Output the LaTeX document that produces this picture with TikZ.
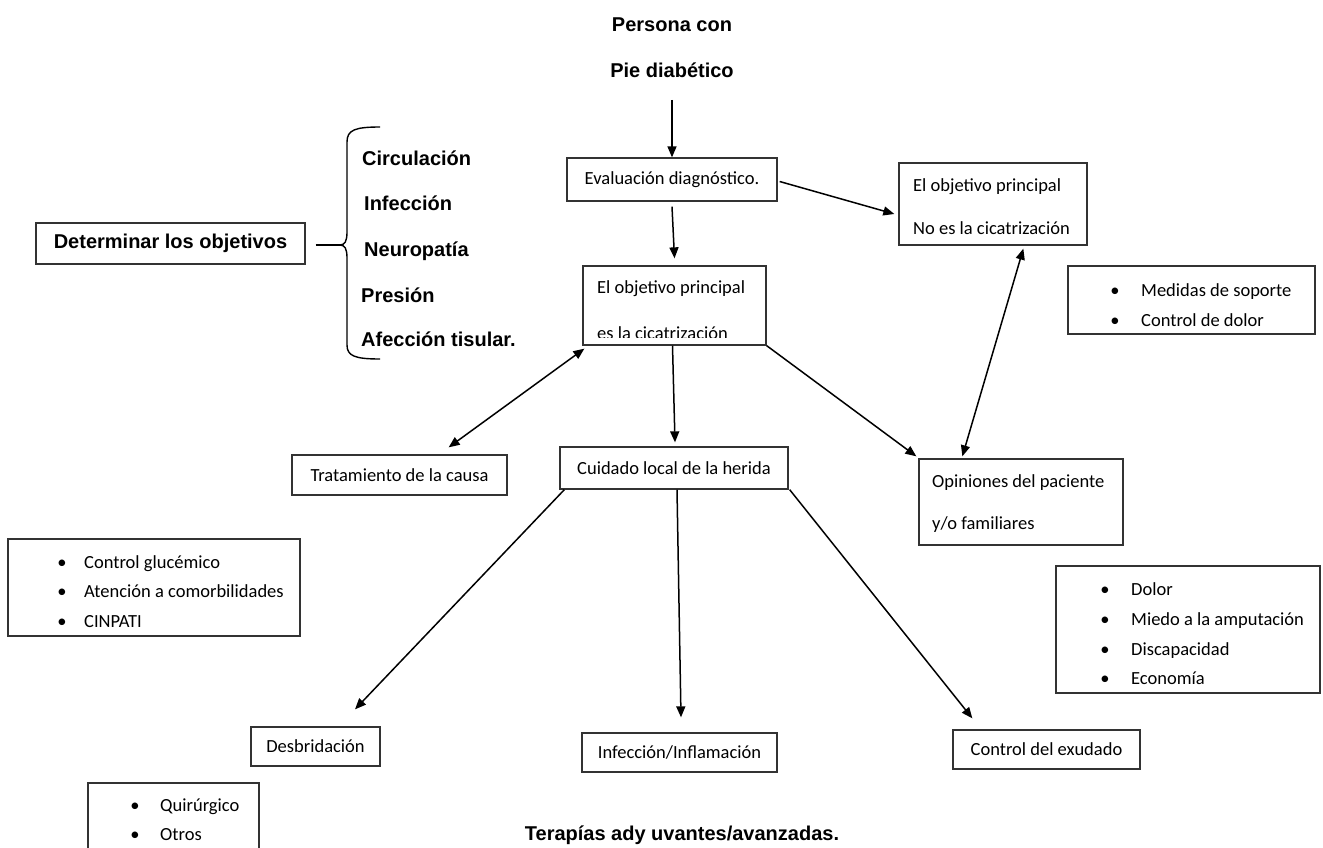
\documentclass[tikz,border=0pt]{standalone}
\usepackage{fontspec}
\setmainfont{Carlito}
\newfontfamily\hfont{Liberation Sans}
\usetikzlibrary{arrows.meta,calc}
\begin{document}
\begin{tikzpicture}[x=1pt,y=-1pt,
  box/.style={draw=black!80,line width=1.3pt,inner sep=0pt,font=\fontsize{18.5}{22}\selectfont},
  txt/.style={inner sep=0pt,font=\fontsize{18.5}{22}\selectfont,anchor=base west},
  bul/.style={inner sep=0pt,font=\fontsize{18.5}{22}\selectfont,anchor=base},
  btxt/.style={inner sep=0pt,font=\hfont\bfseries\fontsize{20}{24}\selectfont},
  arr/.style={line width=1.5pt,-{Triangle[length=11pt,width=9pt]}},
  darr/.style={line width=1.5pt,{Triangle[length=11pt,width=9pt]}-{Triangle[length=11pt,width=9pt]}},
  ln/.style={line width=1.4pt}]
\useasboundingbox (0,0) rectangle (1323,848);
\clip (0,0) rectangle (1323,848);
\fill[white] (0,0) rectangle (1323,848);

% title
\node[btxt,anchor=base] (t1) at (672,32) {Persona con};
\node[btxt,anchor=base] (t2) at (672,78) {Pie diabético};

% main boxes
\node[box,minimum width=210pt,minimum height=43pt] (eval) at (672,179.5) {Evaluación diagnóstico.};
\node[box,minimum width=183pt,minimum height=79pt] (obj) at (674.5,305.5) {};
\node[txt] (objt1) at (597,293) {El objetivo principal};
\begin{scope}
\clip (583,265) rectangle (766,337);
\node[txt] (objt2) at (597,339) {es la cicatrización};
\end{scope}

\node[box,minimum width=188pt,minimum height=82pt] (noes) at (993,204) {};
\node[txt] (noest1) at (913,191) {El objetivo principal};
\node[txt] (noest2) at (913,234) {No es la cicatrización};

\node[box,minimum width=247pt,minimum height=68pt] (med) at (1191.5,300) {};
\node[bul] (medb1) at (1115,296) {\textbullet};
\node[txt] (medt1) at (1141,296) {Medidas de soporte};
\node[bul] (medb2) at (1115,326) {\textbullet};
\node[txt] (medt2) at (1141,326) {Control de dolor};

\node[box,minimum width=269pt,minimum height=41pt,font=\hfont\bfseries\fontsize{20}{24}\selectfont] (det) at (170.5,243.5) {Determinar los objetivos};

\node[btxt,anchor=base west] (c1) at (362,166) {Circulación};
\node[btxt,anchor=base west] (c2) at (364,211) {Infección};
\node[btxt,anchor=base west] (c3) at (364,256) {Neuropatía};
\node[btxt,anchor=base west] (c4) at (361,302) {Presión};
\node[btxt,anchor=base west] (c5) at (361,346) {Afección tisular.};

% brace
\coordinate (btip) at (340,245);
\draw[ln] ($(det.east)+(10,1.5)$) -- (btip);
\draw[ln] (380,127) .. controls (355,127) and (347,130) .. (347,142) -- (347,232)
  .. controls (347,241) and (345,245) .. (btip)
  .. controls (345,245) and (347,249) .. (347,258) -- (347,345)
  .. controls (347,356) and (355,359) .. (380,359);

\node[box,minimum width=215pt,minimum height=40pt] (trat) at (399.5,475) {Tratamiento de la causa};
\node[box,minimum width=228pt,minimum height=42pt] (cuid) at (674,468) {Cuidado local de la herida};

\node[box,minimum width=204pt,minimum height=86pt] (opin) at (1021,502) {};
\node[txt] (opint1) at (932,487) {Opiniones del paciente};
\node[txt] (opint2) at (932,529) {y/o familiares};

\node[box,minimum width=292pt,minimum height=97pt] (gluc) at (154,587.5) {};
\node[bul] (gb1) at (62,568) {\textbullet};
\node[txt] (gt1) at (84,568) {Control glucémico};
\node[bul] (gb2) at (62,597) {\textbullet};
\node[txt] (gt2) at (84,597) {Atención a comorbilidades};
\node[bul] (gb3) at (62,627) {\textbullet};
\node[txt] (gt3) at (84,627) {CINPATI};

\node[box,minimum width=264pt,minimum height=127pt] (dolor) at (1188,629.5) {};
\node[bul] (db1) at (1105,595) {\textbullet};
\node[txt] (dt1) at (1131,595) {Dolor};
\node[bul] (db2) at (1105,625) {\textbullet};
\node[txt] (dt2) at (1131,625) {Miedo a la amputación};
\node[bul] (db3) at (1105,655) {\textbullet};
\node[txt] (dt3) at (1131,655) {Discapacidad};
\node[bul] (db4) at (1105,684) {\textbullet};
\node[txt] (dt4) at (1131,684) {Economía};

\node[box,minimum width=129pt,minimum height=39pt] (desb) at (315.5,746.5) {Desbridación};
\node[box,minimum width=195pt,minimum height=39pt] (infl) at (679.5,752.5) {Infección/Inflamación};
\node[box,minimum width=187pt,minimum height=39pt] (exud) at (1046.5,749.5) {Control del exudado};

\node[box,minimum width=171pt,minimum height=80pt] (quir) at (173.5,823) {};
\node[bul] (qb1) at (135,811) {\textbullet};
\node[txt] (qt1) at (160,811) {Quirúrgico};
\node[bul] (qb2) at (135,840) {\textbullet};
\node[txt] (qt2) at (160,840) {Otros};

\node[btxt,anchor=base] (terap) at (682,840) {Terapías ady uvantes/avanzadas.};

% connectors
\draw[arr] ($(t2.base)+(0,22)$) -- (eval.north);
\draw[arr] ($(eval.south)+(0,5)$) -- ($(obj.north)+(0,-7)$);
\draw[arr] ($(eval.east)+(2,2)$) -- ($(noes.west)+(-4,10)$);
\draw[darr] ($(obj.south west)+(2,3)$) -- ($(trat.north east)+(-59,-7)$);
\draw[arr] ($(obj.south)+(-2,0)$) -- ($(cuid.north)+(1,-4)$);
\draw[arr] (obj.south east) -- ($(opin.north west)+(-2,-2)$);
\draw[darr] ($(opin.north west)+(44,-2)$) -- ($(noes.south west)+(125,3)$);
\draw[arr] ($(cuid.south west)+(5,0)$) -- ($(desb.north)+(39.5,-17)$);
\draw[arr] ($(cuid.south)+(3,0)$) -- ($(infl.north)+(1.5,-15)$);
\draw[arr] ($(cuid.south east)+(1,0)$) -- ($(exud.north west)+(20,-11)$);
\end{tikzpicture}
\end{document}
